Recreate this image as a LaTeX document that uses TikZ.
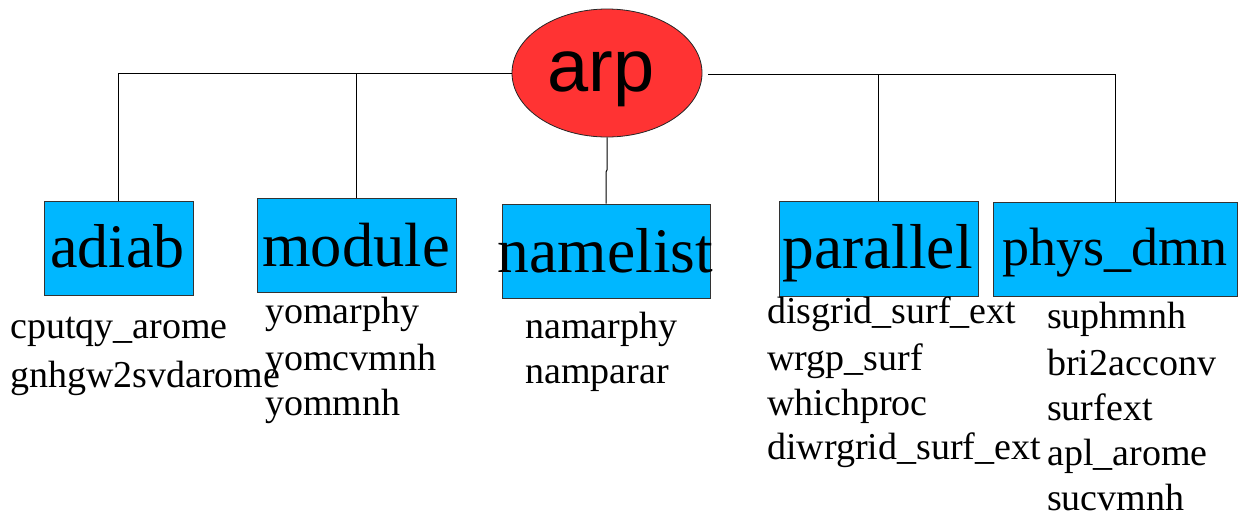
\documentclass[tikz,border=0pt]{standalone}
\usepackage{fontspec}
\setmainfont{Liberation Serif}
\newfontfamily\rootfont{Liberation Sans}
\usetikzlibrary{shapes.geometric}
\definecolor{rootred}{RGB}{255,51,51}
\definecolor{boxblue}{RGB}{0,183,255}

\tikzset{
  wire/.style={draw=black, line width=1pt},
  rootnode/.style={ellipse, draw=black!85, fill=rootred, line width=0.8pt,
    minimum width=190pt, minimum height=128pt, inner sep=0pt},
  dirbox/.style={rectangle, draw=black!80, fill=boxblue, line width=0.9pt, inner sep=0pt},
  dirname/.style={inner sep=0pt, anchor=base, font=\fontsize{#1}{#1}\selectfont},
  entry/.style={inner sep=0pt, anchor=base west, font=\fontsize{38}{38}\selectfont}
}

\begin{document}
\begin{tikzpicture}[x=1pt, y=-1pt]
\useasboundingbox (0,0) rectangle (1239,515);

% root directory
\node[rootnode] (arp) at (607,73) {};
\node[inner sep=0pt, anchor=base, font=\rootfont\fontsize{74}{74}\selectfont] (arplbl) at (601,91) {arp};

% sub-directories
\node[dirbox, minimum width=149pt, minimum height=94pt] (adiab)    at (118.5,248) {};
\node[dirbox, minimum width=199pt, minimum height=94pt] (module)   at (356.5,245) {};
\node[dirbox, minimum width=208pt, minimum height=94pt] (namelist) at (606,251)   {};
\node[dirbox, minimum width=199pt, minimum height=95pt] (parallel) at (878.5,248.5) {};
\node[dirbox, minimum width=244pt, minimum height=94pt] (physdmn)  at (1115,249)  {};

\node[dirname=62]   (adiablbl)    at (117.5,267) {adiab};
\node[dirname=62.5] (modulelbl)   at (356,266)   {module};
\node[dirname=63.5] (namelistlbl) at (605.5,272) {namelist};
\node[dirname=63.5] (parallellbl) at (877.5,268) {parallel};
\node[dirname=54]   (physdmnlbl)  at (1115,265)  {phys\_dmn};

% connectors
\coordinate (rbus) at (708,74);
\draw[wire] (arp.west) -| (adiab.north);
\draw[wire] (arp.west) -| (module.north);
\draw[wire] (rbus) -| (parallel.north);
\draw[wire] (rbus) -| (physdmn.north);
\draw[wire] (arp.south) -- (607,170) -- (606,172) -- (namelist.north);

% files in adiab
\node[entry] (a1) at (10,338) {cputqy\_arome};
\node[entry] (a2) at (10,387) {gnhgw2svdarome};

% files in module
\node[entry] (m1) at (265,323) {yomarphy};
\node[entry] (m2) at (265,370) {yomcvmnh};
\node[entry] (m3) at (265,415) {yommnh};

% files in namelist
\node[entry] (n1) at (525,338) {namarphy};
\node[entry] (n2) at (525,383) {namparar};

% files in parallel
\node[entry] (p1) at (767,323) {disgrid\_surf\_ext};
\node[entry] (p2) at (767,370) {wrgp\_surf};
\node[entry] (p3) at (767,415) {whichproc};
\node[entry] (p4) at (767,459) {diwrgrid\_surf\_ext};

% files in phys_dmn
\node[entry] (d1) at (1047,328) {suphmnh};
\node[entry] (d2) at (1047,375) {bri2acconv};
\node[entry] (d3) at (1047,420) {surfext};
\node[entry] (d4) at (1047,465) {apl\_arome};
\node[entry] (d5) at (1047,510) {sucvmnh};
\end{tikzpicture}
\end{document}
